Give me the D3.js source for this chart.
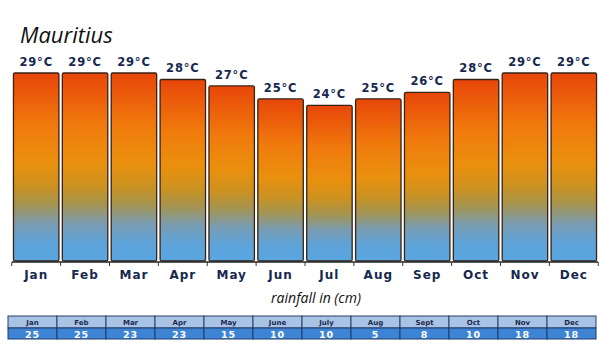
<!DOCTYPE html>
<html><head><meta charset="utf-8">
<script src="https://cdn.jsdelivr.net/npm/d3@7"></script>
<style>body{margin:0;background:#fff}svg{display:block}</style>
</head><body><svg id="c" width="600" height="350"></svg>
<script>
const months = ["Jan","Feb","Mar","Apr","May","Jun","Jul","Aug","Sep","Oct","Nov","Dec"];
const temps = [29,29,29,28,27,25,24,25,26,28,29,29];
const rainMonths = ["Jan","Feb","Mar","Apr","May","June","July","Aug","Sept","Oct","Nov","Dec"];
const rainfall = [25,25,23,23,15,10,10,5,8,10,18,18];
const title = "Mauritius";
const subtitle = "rainfall in (cm)";

const svg = d3.select("#c");
const defs = svg.append("defs");
const g = defs.append("linearGradient").attr("id","bg").attr("x1",0).attr("y1",0).attr("x2",0).attr("y2",1);
[["0%","#e8460a"],["28%","#f07a0c"],["48%","#ea900e"],["60%","#cc9220"],["70%","#a49450"],["80%","#7a9cb0"],["90%","#5ea3d8"],["100%","#58a6e2"]]
  .forEach(([o,c])=>g.append("stop").attr("offset",o).attr("stop-color",c));

const x = d3.scaleBand().domain(months).range([12,598]).paddingInner(0.07).paddingOuter(0.03);
const y = d3.scaleLinear().domain([0,29]).range([261,73]);

svg.append("text").attr("x",20).attr("y",43).text(title)
  .attr("font-family","Open Sans, sans-serif").attr("font-style","italic").attr("font-size",22).attr("fill","#111");

svg.append("g").selectAll("rect").data(temps).join("rect")
  .attr("x",(d,i)=>x(months[i])).attr("y",d=>y(d))
  .attr("width",x.bandwidth()).attr("height",d=>y(0)-y(d))
  .attr("rx",1.5).attr("fill","url(#bg)").attr("stroke","#3a2214").attr("stroke-width",1.3);

svg.append("g").selectAll("text").data(temps).join("text")
  .attr("x",(d,i)=>x(months[i])+x.bandwidth()/2).attr("y",d=>y(d)-7)
  .attr("text-anchor","middle").text(d=>d+"°C")
  .attr("font-family","DejaVu Sans, sans-serif").attr("font-weight","bold").attr("font-size",11.5).attr("letter-spacing",0.8).attr("fill","#16284e");

const ax = svg.append("g").attr("transform","translate(0,262)");
ax.append("line").attr("x1",12).attr("x2",598).attr("stroke","#222").attr("stroke-width",1.5);
const step = x.step();
ax.selectAll(".tk").data(d3.range(13)).join("line")
  .attr("x1",i=>x(months[0])-x.paddingInner()*step/2+i*step).attr("x2",i=>x(months[0])-x.paddingInner()*step/2+i*step)
  .attr("y1",0).attr("y2",4).attr("stroke","#333");
ax.selectAll(".lb").data(months).join("text")
  .attr("x",d=>x(d)+x.bandwidth()/2).attr("y",17).attr("text-anchor","middle").text(d=>d)
  .attr("font-family","DejaVu Sans, sans-serif").attr("font-weight","bold").attr("font-size",12).attr("letter-spacing",1).attr("fill","#16284e");

svg.append("text").attr("x",316).attr("y",303).attr("text-anchor","middle").text(subtitle)
  .attr("font-family","Open Sans, sans-serif").attr("font-style","italic").attr("font-size",14).attr("fill","#111");

const tx = d3.scaleBand().domain(rainMonths).range([8,596]).padding(0);
const tb = svg.append("g");
tb.selectAll(".h").data(rainMonths).join("rect")
  .attr("x",d=>tx(d)).attr("y",316).attr("width",tx.bandwidth()).attr("height",12)
  .attr("fill","#a9c3e6").attr("stroke","#2a3e66").attr("stroke-width",1);
tb.selectAll(".v").data(rainfall).join("rect")
  .attr("x",(d,i)=>tx(rainMonths[i])).attr("y",328).attr("width",tx.bandwidth()).attr("height",11)
  .attr("fill","#3e84d4").attr("stroke","#1e3a6a").attr("stroke-width",1);
tb.selectAll(".ht").data(rainMonths).join("text")
  .attr("x",d=>tx(d)+tx.bandwidth()/2).attr("y",325).attr("text-anchor","middle").text(d=>d)
  .attr("font-family","DejaVu Sans, sans-serif").attr("font-weight","bold").attr("font-size",7).attr("fill","#1a2a4e");
tb.selectAll(".vt").data(rainfall).join("text")
  .attr("x",(d,i)=>tx(rainMonths[i])+tx.bandwidth()/2).attr("y",337.5).attr("text-anchor","middle").text(d=>d)
  .attr("font-family","DejaVu Sans, sans-serif").attr("font-weight","bold").attr("font-size",9.5).attr("letter-spacing",1).attr("fill","#fff");
</script></body></html>
